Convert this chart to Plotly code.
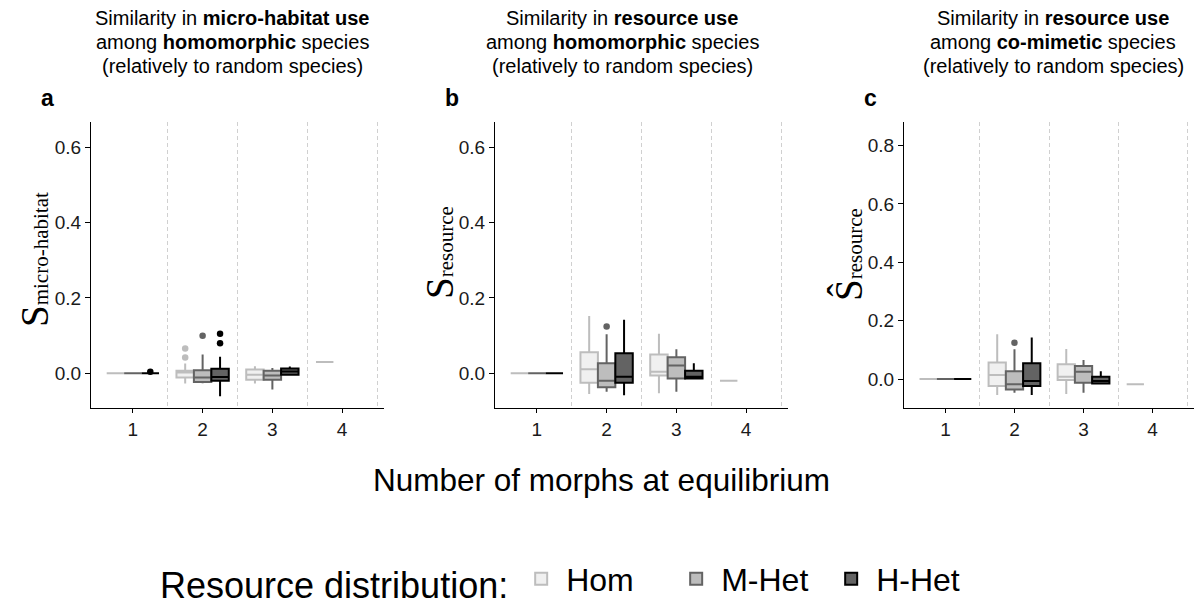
import plotly.graph_objects as go

W, H = 1195, 609

# ---------------- data ----------------
series = ["Hom", "M-Het", "H-Het"]
groups_hom = [1, 2, 3, 4]
groups_het = [1, 2, 3]

# Panel a : micro-habitat, homomorphic
a_hom_q1 = [0, -0.011, -0.017, 0.030]
a_hom_med = [0, 0.002, -0.004, 0.030]
a_hom_q3 = [0, 0.007, 0.010, 0.030]
a_hom_lo = [0, -0.027, -0.027, 0.030]
a_hom_hi = [0, 0.026, 0.019, 0.030]
a_mhet_q1 = [0, -0.023, -0.017]
a_mhet_med = [0, -0.011, -0.006]
a_mhet_q3 = [0, 0.008, 0.007]
a_mhet_lo = [0, -0.026, -0.043]
a_mhet_hi = [0, 0.050, 0.014]
a_hhet_q1 = [0, -0.020, -0.004]
a_hhet_med = [0, -0.010, 0.005]
a_hhet_q3 = [0, 0.012, 0.013]
a_hhet_lo = [0, -0.061, -0.004]
a_hhet_hi = [0, 0.044, 0.018]
a_out_hom_x, a_out_hom_y = [2, 2], [0.042, 0.066]
a_out_mhet_x, a_out_mhet_y = [2], [0.100]
a_out_hhet_x, a_out_hhet_y = [1, 2, 2], [0.004, 0.080, 0.105]

# Panel b : resource, homomorphic
b_hom_q1 = [0, -0.025, -0.006, -0.020]
b_hom_med = [0, 0.011, 0.004, -0.020]
b_hom_q3 = [0, 0.056, 0.050, -0.020]
b_hom_lo = [0, -0.055, -0.053, -0.020]
b_hom_hi = [0, 0.152, 0.105, -0.020]
b_mhet_q1 = [0, -0.037, -0.014]
b_mhet_med = [0, -0.020, 0.021]
b_mhet_q3 = [0, 0.027, 0.043]
b_mhet_lo = [0, -0.049, -0.049]
b_mhet_hi = [0, 0.104, 0.064]
b_hhet_q1 = [0, -0.025, -0.014]
b_hhet_med = [0, -0.009, -0.009]
b_hhet_q3 = [0, 0.053, 0.007]
b_hhet_lo = [0, -0.058, -0.014]
b_hhet_hi = [0, 0.142, 0.027]
b_out_hom_x, b_out_hom_y = [], []
b_out_mhet_x, b_out_mhet_y = [2], [0.124]
b_out_hhet_x, b_out_hhet_y = [], []

# Panel c : resource, co-mimetic
c_hom_q1 = [0, -0.024, -0.003, -0.018]
c_hom_med = [0, 0.014, 0.008, -0.018]
c_hom_q3 = [0, 0.057, 0.051, -0.018]
c_hom_lo = [0, -0.055, -0.051, -0.018]
c_hom_hi = [0, 0.153, 0.103, -0.018]
c_mhet_q1 = [0, -0.036, -0.013]
c_mhet_med = [0, -0.018, 0.025]
c_mhet_q3 = [0, 0.027, 0.045]
c_mhet_lo = [0, -0.047, -0.047]
c_mhet_hi = [0, 0.102, 0.065]
c_hhet_q1 = [0, -0.024, -0.015]
c_hhet_med = [0, -0.007, -0.007]
c_hhet_q3 = [0, 0.054, 0.008]
c_hhet_lo = [0, -0.055, -0.015]
c_hhet_hi = [0, 0.142, 0.027]
c_out_hom_x, c_out_hom_y = [], []
c_out_mhet_x, c_out_mhet_y = [2], [0.124]
c_out_hhet_x, c_out_hhet_y = [], []

x_ticks = [1, 2, 3, 4]
y_ticks_ab = [0.0, 0.2, 0.4, 0.6]
y_ticks_c = [0.0, 0.2, 0.4, 0.6, 0.8]

# ---------------- style ----------------
FILL = {"Hom": "#F0F0F0", "M-Het": "#BDBDBD", "H-Het": "#636363"}
LINE = {"Hom": "#BDBDBD", "M-Het": "#636363", "H-Het": "#000000"}
DODGE = {"Hom": -0.25, "M-Het": 0.0, "H-Het": 0.25}
BOXW = 0.25
SANS = "Liberation Sans, Arial, sans-serif"

panels = [
    dict(xa="x", ya="y", data={
        "Hom": (groups_hom, a_hom_q1, a_hom_med, a_hom_q3, a_hom_lo, a_hom_hi, a_out_hom_x, a_out_hom_y),
        "M-Het": (groups_het, a_mhet_q1, a_mhet_med, a_mhet_q3, a_mhet_lo, a_mhet_hi, a_out_mhet_x, a_out_mhet_y),
        "H-Het": (groups_het, a_hhet_q1, a_hhet_med, a_hhet_q3, a_hhet_lo, a_hhet_hi, a_out_hhet_x, a_out_hhet_y)}),
    dict(xa="x2", ya="y2", data={
        "Hom": (groups_hom, b_hom_q1, b_hom_med, b_hom_q3, b_hom_lo, b_hom_hi, b_out_hom_x, b_out_hom_y),
        "M-Het": (groups_het, b_mhet_q1, b_mhet_med, b_mhet_q3, b_mhet_lo, b_mhet_hi, b_out_mhet_x, b_out_mhet_y),
        "H-Het": (groups_het, b_hhet_q1, b_hhet_med, b_hhet_q3, b_hhet_lo, b_hhet_hi, b_out_hhet_x, b_out_hhet_y)}),
    dict(xa="x3", ya="y3", data={
        "Hom": (groups_hom, c_hom_q1, c_hom_med, c_hom_q3, c_hom_lo, c_hom_hi, c_out_hom_x, c_out_hom_y),
        "M-Het": (groups_het, c_mhet_q1, c_mhet_med, c_mhet_q3, c_mhet_lo, c_mhet_hi, c_out_mhet_x, c_out_mhet_y),
        "H-Het": (groups_het, c_hhet_q1, c_hhet_med, c_hhet_q3, c_hhet_lo, c_hhet_hi, c_out_hhet_x, c_out_hhet_y)}),
]

fig = go.Figure()
for pi, p in enumerate(panels):
    for s in series:
        gx, q1, med, q3, lo, hi, ox, oy = p["data"][s]
        fig.add_trace(go.Box(
            x=[g + DODGE[s] for g in gx], q1=q1, median=med, q3=q3,
            lowerfence=lo, upperfence=hi, width=BOXW,
            fillcolor=FILL[s], line=dict(color=LINE[s], width=2),
            whiskerwidth=0, boxpoints=False, name=s, legendgroup=s,
            showlegend=(pi == 0), xaxis=p["xa"], yaxis=p["ya"],
            hoverinfo="skip"))
        if ox:
            fig.add_trace(go.Scatter(
                x=[g + DODGE[s] for g in ox], y=oy, mode="markers",
                marker=dict(color=LINE[s] if s != "Hom" else "#BDBDBD", size=6.5),
                showlegend=False, xaxis=p["xa"], yaxis=p["ya"], hoverinfo="skip"))

def px2fx(px):
    return px / W

def py2fy(py):
    return 1 - py / H

dom_y = [py2fy(408), py2fy(122)]
x_doms = [[px2fx(91), px2fx(384)], [px2fx(495), px2fx(788)], [px2fx(904), px2fx(1194)]]
y_ranges = [[-0.092, 0.667], [-0.092, 0.667], [-0.0994, 0.881]]
y_tickss = [y_ticks_ab, y_ticks_ab, y_ticks_c]

axis_font = dict(family=SANS, size=19, color="#1a1a1a")
for i in range(3):
    suf = "" if i == 0 else str(i + 1)
    fig.layout["xaxis" + suf] = dict(
        domain=x_doms[i], range=[0.4, 4.6], anchor="y" + suf,
        tickmode="array", tickvals=x_ticks, ticktext=[str(t) for t in x_ticks],
        showline=True, linecolor="black", linewidth=1.2,
        ticks="outside", ticklen=4, tickcolor="black", tickwidth=1.2,
        showgrid=False, zeroline=False, tickfont=axis_font,
        minor=dict(tickmode="array", tickvals=[1.5, 2.5, 3.5, 4.5], showgrid=True,
                   gridcolor="#D0D0D0", griddash="4px,3px", gridwidth=0.8, ticks=""))
    fig.layout["yaxis" + suf] = dict(
        domain=dom_y, range=y_ranges[i], anchor="x" + suf,
        tickmode="array", tickvals=y_tickss[i], tickformat=".1f",
        showline=True, linecolor="black", linewidth=1.2,
        ticks="outside", ticklen=5, tickcolor="black", tickwidth=1.2,
        showgrid=False, zeroline=False, tickfont=axis_font)

annotations = []
title_font = dict(family=SANS, size=20, color="black")
titles = [
    (["Similarity in <b>micro-habitat use</b>", "among <b>homomorphic</b> species",
      "(relatively to random species)"], 232),
    (["Similarity in <b>resource use</b>", "among <b>homomorphic</b> species",
      "(relatively to random species)"], 622),
    (["Similarity in <b>resource use</b>", "among <b>co-mimetic</b> species",
      "(relatively to random species)"], 1053),
]
for lines, cx in titles:
    for k, txt in enumerate(lines):
        annotations.append(dict(text=txt, x=px2fx(cx), y=py2fy(18 + 24 * k), xref="paper", yref="paper",
                                xanchor="center", yanchor="middle", showarrow=False, font=title_font))
for letter, lx in [("a", 47), ("b", 452), ("c", 870)]:
    annotations.append(dict(text="<b>" + letter + "</b>", x=px2fx(lx), y=py2fy(98), xref="paper", yref="paper",
                            xanchor="center", yanchor="middle", showarrow=False,
                            font=dict(family=SANS, size=23, color="black")))
ytitles = [
    ("S<span style='font-size:21px'>micro-habitat</span>", 35, 260),
    ("S<span style='font-size:21px'>resource</span>", 439, 253),
    ("Ŝ<span style='font-size:21px'>resource</span>", 848, 255),
]
for txt, cx, cy in ytitles:
    annotations.append(dict(text=txt, x=px2fx(cx), y=py2fy(cy), xref="paper", yref="paper",
                            xanchor="center", yanchor="middle", textangle=-90, showarrow=False,
                            font=dict(family="Liberation Serif, Times New Roman, serif", size=39, color="black")))
annotations.append(dict(text="Number of morphs at equilibrium", x=px2fx(601), y=py2fy(480),
                        xref="paper", yref="paper", xanchor="center", yanchor="middle", showarrow=False,
                        font=dict(family=SANS, size=31.5, color="black")))

fig.update_layout(
    width=W, height=H, margin=dict(l=0, r=0, t=0, b=0, autoexpand=False),
    plot_bgcolor="white", paper_bgcolor="white",
    annotations=annotations,
    legend=dict(orientation="h", x=px2fx(158), xanchor="left", y=py2fy(580), yanchor="middle",
                title=dict(text="Resource distribution:", side="left",
                           font=dict(family=SANS, size=36, color="black")),
                font=dict(family=SANS, size=32, color="black"),
                itemwidth=40, entrywidth=100, entrywidthmode="pixels",
                bgcolor="rgba(0,0,0,0)"),
)

fig.write_html("out.html", config={"displayModeBar": False},
               post_script="document.body.style.margin='0';document.body.style.padding='0';")
